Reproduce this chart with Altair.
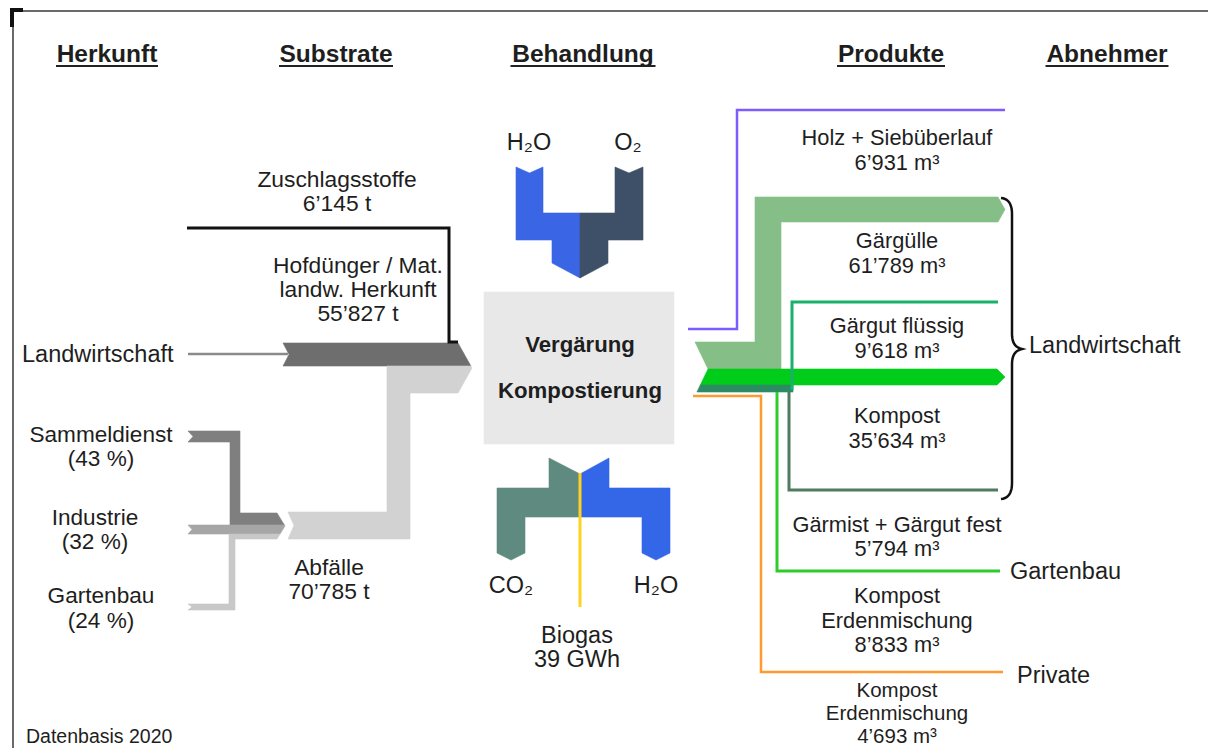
import altair as alt

# ---------------- values ----------------
headers = ["Herkunft", "Substrate", "Behandlung", "Produkte", "Abnehmer"]
herkunft = ["Sammeldienst", "Industrie", "Gartenbau"]
herkunft_pct = [43, 32, 24]
herkunft_lw = "Landwirtschaft"
substrate_lines = [["Zuschlagsstoffe"], ["Hofdünger / Mat.", "landw. Herkunft"], ["Abfälle"]]
substrate_t = [6145, 55827, 70785]
behandlung = ["Vergärung", "Kompostierung"]
inputs_top = ["H₂O", "O₂"]
outputs_bottom = ["CO₂", "H₂O"]
biogas_label = "Biogas"
biogas_gwh = 39
produkte_lines = [["Holz + Siebüberlauf"], ["Gärgülle"], ["Gärgut flüssig"], ["Kompost"],
                  ["Gärmist + Gärgut fest"], ["Kompost", "Erdenmischung"], ["Kompost", "Erdenmischung"]]
produkte_m3 = [6931, 61789, 9618, 35634, 5794, 8833, 4693]
abnehmer = ["Landwirtschaft", "Gartenbau", "Private"]
datenbasis = "Datenbasis 2020"


def fmt(v):
    return f"{v:,}".replace(",", "’")


# ---------------- layout (image pixel coordinates) ----------------
header_x = [107, 336, 583, 891, 1107]
header_y = 62
header_w = [102, 114, 145, 108, 123]

herkunft_xy = [(101, 442, 466), (95, 525, 549), (101, 603, 628)]
lw_left_xy = (22, 362)
substrate_xy = [(337, [187, 211]), (358, [273, 297, 321]), (329, [575, 599])]
inputs_top_xy = [(529, 150), (628, 150)]
outputs_bottom_xy = [(511, 593), (656, 593)]
biogas_xy = (577, [643, 667])
behandlung_xy = [(580, 352), (580, 398)]
produkte_x = 897
produkte_y = [[145, 170], [248, 273], [333, 358], [423, 448], [532, 556],
              [603, 628, 652], [697, 720, 743]]
produkte_size = [21.8, 21.8, 21.8, 21.8, 21.8, 21.8, 20.5]
abnehmer_xy = [(1029, 353), (1010, 579), (1017, 683)]
datenbasis_xy = (26, 743)

SIZE_HERKUNFT = 22.6
SIZE_SUBSTRATE = 22.8
SIZE_CENTER = 23.5
SIZE_ABNEHMER = 23.5


# ---------------- shape helpers ----------------
def ring(pts):
    pts = [list(p) for p in pts]
    return pts + [pts[0]]


def poly(pts, fill):
    return {"type": "Feature", "properties": {"fill": fill},
            "geometry": {"type": "Polygon", "coordinates": [ring(pts)]}}


def line(pts, color, w):
    return {"type": "Feature", "properties": {"stroke": color, "w": w},
            "geometry": {"type": "LineString", "coordinates": [list(p) for p in pts]}}


def chev(xr, xt, yc, hh):
    return lambda y: xr + (xt - xr) * max(0.0, 1 - abs(y - yc) / hh)


def qbez(p0, c, p1, n=10):
    out = []
    for i in range(n + 1):
        t = i / n
        out.append(((1 - t) ** 2 * p0[0] + 2 * (1 - t) * t * c[0] + t * t * p1[0],
                    (1 - t) ** 2 * p0[1] + 2 * (1 - t) * t * c[1] + t * t * p1[1]))
    return out


tipA = chev(458, 472, 368, 25)
tipB = chev(277, 285, 526, 13)
notchR = lambda y: 695 + 13 * max(0.0, 1 - abs(y - 369) / 27)

polys = [
    # Substrate inflows
    poly([(283, 343), (tipA(343), 343), (tipA(366), 366), (283, 366), (289, 354.5)], "#6e6e6e"),
    poly([(387, 366), (tipA(366), 366), (472, 368), (tipA(393), 393), (410, 393), (410, 539),
          (288, 539), (294, 525.5), (288, 512), (387, 512)], "#d2d2d2"),
    poly([(188, 431), (240, 431), (240, 513), (tipB(513), 513), (tipB(525), 525), (230, 525),
          (230, 442), (188, 442), (193, 436.5)], "#7f7f7f"),
    poly([(188, 525), (tipB(525), 525), (285, 526), (tipB(534), 534), (188, 534), (192, 529.5)], "#a6a6a6"),
    poly([(229, 534), (tipB(534), 534), (tipB(539), 539), (235, 539), (235, 610), (188, 610),
          (192, 607), (188, 604), (229, 604)], "#c8c8c8"),
    # treatment box and gas flows
    poly([(484, 292), (674, 292), (674, 444), (484, 444)], "#e8e8e8"),
    poly([(516, 167), (529.5, 173), (543, 167), (543, 213), (580, 213), (580, 278), (552, 263),
          (552, 240), (516, 240)], "#3a66e6"),
    poly([(643, 167), (629, 173), (615, 167), (615, 213), (580, 213), (580, 278), (608, 263),
          (608, 240), (643, 240)], "#3e5068"),
    poly([(549, 458), (580, 474), (580, 517), (525, 517), (525, 553), (511, 560), (497, 553),
          (497, 488), (549, 488)], "#5f8a7f"),
    poly([(609, 458), (580, 474), (580, 517), (642, 517), (642, 553), (656, 560), (670, 553),
          (670, 488), (609, 488)], "#3466e8"),
    # product outflows
    poly([(695, 342), (755, 342), (755, 197), (998, 197), (1005, 209.5), (998, 222), (781, 222),
          (781, 369), (708, 369)], "#85bf87"),
    poly([(708, 369), (997, 369), (1005, 377), (997, 385), (notchR(385), 385)], "#00cc1a"),
    poly([(notchR(385), 385), (793, 385), (793, 392), (notchR(392), 392)], "#2b8c63"),
]

brace = (qbez((1001, 198), (1012, 199), (1012, 214)) + [(1012, 334)]
         + qbez((1012, 334), (1012, 347), (1022, 349)) + qbez((1022, 349), (1012, 351), (1012, 364))
         + [(1012, 483)] + qbez((1012, 483), (1012, 498), (1001, 499)))

lines = [
    line([(1216, 11), (13, 11), (13, 756)], "#6a6a6a", 2),
    line([(23, 10), (12, 10), (12, 27)], "#111111", 4),
    line([(187, 228), (449, 228), (449, 342), (458, 342)], "#111111", 3),
    line([(188, 354), (288, 354)], "#8a8a8a", 2.5),
    line([(580, 473), (580, 607)], "#ffd21f", 3),
    line([(688, 329), (737, 329), (737, 110), (1005, 110)], "#7b5cff", 2.5),
    line([(792, 390), (792, 302), (998, 302)], "#19b26b", 3),
    line([(789, 392), (789, 490), (998, 490)], "#4f7b5f", 3),
    line([(777, 392), (777, 571), (1000, 571)], "#2ecc2e", 3),
    line([(693, 396), (761, 396), (761, 672), (1003, 672)], "#ff9a2e", 2.5),
    line(brace, "#111111", 2.5),
]
for hx, hw in zip(header_x, header_w):
    lines.append(line([(hx - hw / 2, 66), (hx + hw / 2, 66)], "#222222", 2))

# ---------------- text rows ----------------
center_rows = []
for (x, y1, y2), name, pct in zip(herkunft_xy, herkunft, herkunft_pct):
    center_rows += [{"x": x, "y": y1, "t": name, "s": SIZE_HERKUNFT},
                    {"x": x, "y": y2, "t": f"({pct} %)", "s": SIZE_HERKUNFT}]
for (x, ys), lines_, val in zip(substrate_xy, substrate_lines, substrate_t):
    for y, t in zip(ys, lines_ + [f"{fmt(val)} t"]):
        center_rows.append({"x": x, "y": y, "t": t, "s": SIZE_SUBSTRATE})
for (x, y), t in zip(inputs_top_xy, inputs_top):
    center_rows.append({"x": x, "y": y, "t": t, "s": SIZE_CENTER})
for (x, y), t in zip(outputs_bottom_xy, outputs_bottom):
    center_rows.append({"x": x, "y": y, "t": t, "s": SIZE_CENTER})
center_rows.append({"x": biogas_xy[0], "y": biogas_xy[1][0], "t": biogas_label, "s": SIZE_CENTER})
center_rows.append({"x": biogas_xy[0], "y": biogas_xy[1][1], "t": f"{biogas_gwh} GWh", "s": SIZE_CENTER})
for ys, sz, lines_, val in zip(produkte_y, produkte_size, produkte_lines, produkte_m3):
    for y, t in zip(ys, lines_ + [f"{fmt(val)} m³"]):
        center_rows.append({"x": produkte_x, "y": y, "t": t, "s": sz})

left_rows = [{"x": lw_left_xy[0], "y": lw_left_xy[1], "t": herkunft_lw, "s": SIZE_ABNEHMER}]
for (x, y), t in zip(abnehmer_xy, abnehmer):
    left_rows.append({"x": x, "y": y, "t": t, "s": SIZE_ABNEHMER})
left_rows.append({"x": datenbasis_xy[0], "y": datenbasis_xy[1], "t": datenbasis, "s": 19.5})

header_rows = [{"x": x, "y": header_y, "t": t, "s": 24.5} for x, t in zip(header_x, headers)]
box_rows = [{"x": x, "y": y, "t": t, "s": 22.2} for (x, y), t in zip(behandlung_xy, behandlung)]

PROJ = dict(type="identity", scale=1, translate=[-8, -8])
FONT = "Liberation Sans"


def text_layer(rows, align, weight="normal"):
    return alt.Chart(alt.Data(values=rows)).mark_text(
        align=align, baseline="alphabetic", fontWeight=weight,
        font=FONT, color="#1e1e1e"
    ).encode(
        longitude="x:Q", latitude="y:Q", text="t:N",
        size=alt.Size("s:Q", scale=None),
    ).project(**PROJ)


poly_layer = alt.Chart(alt.Data(values=polys)).mark_geoshape(strokeWidth=0.6).encode(
    fill=alt.Fill("properties.fill:N", scale=None),
    stroke=alt.Stroke("properties.fill:N", scale=None),
).project(**PROJ)

line_layer = alt.Chart(alt.Data(values=lines)).mark_geoshape(
    filled=False, strokeCap="butt", strokeJoin="miter"
).encode(
    stroke=alt.Stroke("properties.stroke:N", scale=None),
    strokeWidth=alt.StrokeWidth("properties.w:Q", scale=None),
).project(**PROJ)

chart = alt.layer(
    poly_layer,
    line_layer,
    text_layer(center_rows, "center"),
    text_layer(left_rows, "left"),
    text_layer(header_rows, "center", "bold"),
    text_layer(box_rows, "center", "bold"),
).properties(
    width=1200, height=740, padding=0, autosize=alt.AutoSizeParams(type="none"),
    background="white",
).configure_view(stroke=None)

chart.save("out.html", embed_options={"renderer": "svg", "actions": False})
